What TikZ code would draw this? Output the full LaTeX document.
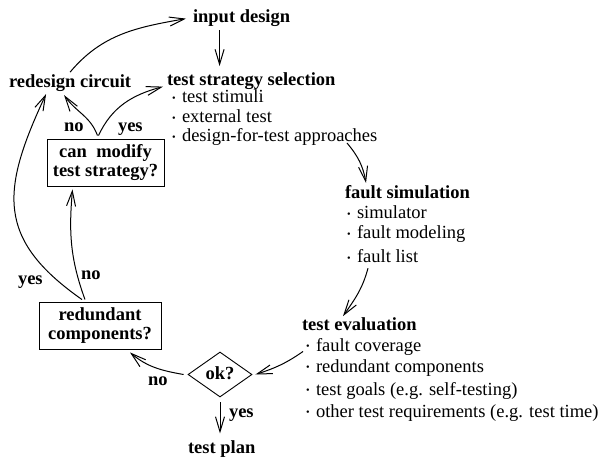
\documentclass[tikz,border=0pt]{standalone}
\usepackage{fontspec}
\setmainfont{Liberation Serif}
\usetikzlibrary{arrows.meta,shapes.geometric}
\newcommand\mybul{\makebox[10bp][l]{\raisebox{0.1em}{\scalebox{0.55}{\textbullet}}}}
\begin{document}
\begin{tikzpicture}[x=1bp,y=-1bp,
  txt/.style={inner sep=0pt, outer sep=0pt, anchor=base west, font=\fontsize{18.5bp}{20bp}\selectfont},
  hd/.style={txt, font=\fontsize{18.5bp}{20bp}\selectfont\bfseries},
  box/.style={draw, line width=0.9bp, inner sep=0pt, minimum width=117bp, minimum height=47bp, align=center, font=\fontsize{18.5bp}{19.5bp}\selectfont\bfseries},
  arr/.style={line width=1bp, -{Straight Barb[length=15bp,width=9bp,line width=1bp]}}
]
\useasboundingbox (0,0) rectangle (604,460);
% nodes
\node[hd] (input) at (193,23) {input design};
\node[hd] (strat) at (167,86) {test strategy selection};
\node[txt] (s1) at (172,103) {\mybul test stimuli};
\node[txt] (s2) at (172,123) {\mybul external test};
\node[txt] (s3) at (172,142) {\mybul design-for-test approaches};
\node[hd] (redesign) at (9,88) {redesign circuit};
\node[box] (canmod) at (105.5,162.5) {can\ \ modify\\test strategy?};
\node[hd] (no1) at (64,132) {no};
\node[hd] (yes1) at (118,132) {yes};
\node[hd] (fsim) at (345,199) {fault simulation};
\node[txt] (f1) at (347,219) {\mybul simulator};
\node[txt] (f2) at (347,239) {\mybul fault modeling};
\node[txt] (f3) at (347,263) {\mybul fault list};
\node[hd] (teval) at (302,330) {test evaluation};
\node[txt] (e1) at (306,351) {\mybul fault coverage};
\node[txt] (e2) at (306,372) {\mybul redundant components};
\node[txt] (e3) at (306,395) {\mybul test goals (e.g. self-testing)};
\node[txt] (e4) at (306,417) {\mybul other test requirements (e.g. test time)};
\node[box, minimum width=122bp] (redund) at (100,325.5) {redundant\\components?};
\node[hd] (yes2) at (18,285) {yes};
\node[hd] (no2) at (81,280) {no};
\node[diamond, draw, line width=0.9bp, inner sep=0pt, minimum width=64bp, minimum height=45bp, font=\fontsize{18.5bp}{20bp}\selectfont\bfseries] (ok) at (220,374.5) {\raisebox{3bp}{ok?}};
\node[hd] (no3) at (148,385) {no};
\node[hd] (yes3) at (229,417) {yes};
\node[hd] (plan) at (188,453) {test plan};
% connectors
\draw[arr] ([xshift=-22bp,yshift=-3bp]input.south) -- ++(0,36);
\draw[arr] ([yshift=3bp]redesign.north) to[out=50,in=190] ([xshift=-7bp]input.west);
\draw[arr] ([xshift=-8bp,yshift=3bp]canmod.north) to[out=110,in=-55] ([xshift=-6bp,yshift=-3bp]redesign.south);
\draw[arr] ([xshift=-7bp,yshift=3bp]canmod.north) to[out=65,in=195] ([xshift=-4bp,yshift=-5bp]strat.west);
\draw[arr] ([xshift=-15bp,yshift=2bp]redund.north) to[out=110,in=-95] ([xshift=-33bp,yshift=-3bp]canmod.south);
\draw[arr] ([xshift=-18bp,yshift=2bp]redund.north) to[out=145,in=-115,looseness=1.3] ([xshift=-24bp,yshift=-2bp]redesign.south);
\draw[arr] ([xshift=-4bp]ok.west) to[out=170,in=-40] ([xshift=30bp,yshift=-3bp]redund.south);
\draw[arr] ([yshift=-5bp]ok.south) -- ++(0,31);
\draw[arr] ([xshift=-3bp,yshift=-5bp]e1.west) to[out=215,in=18] ([xshift=3bp]ok.east);
\draw[arr] ([xshift=175bp,yshift=3bp]s3.south west) to[out=-50,in=100] ([xshift=21bp,yshift=3bp]fsim.north west);
\draw[arr] ([xshift=21bp,yshift=-5bp]f3.south west) to[out=-105,in=55] ([xshift=41bp,yshift=1bp]teval.north west);
\end{tikzpicture}
\end{document}
